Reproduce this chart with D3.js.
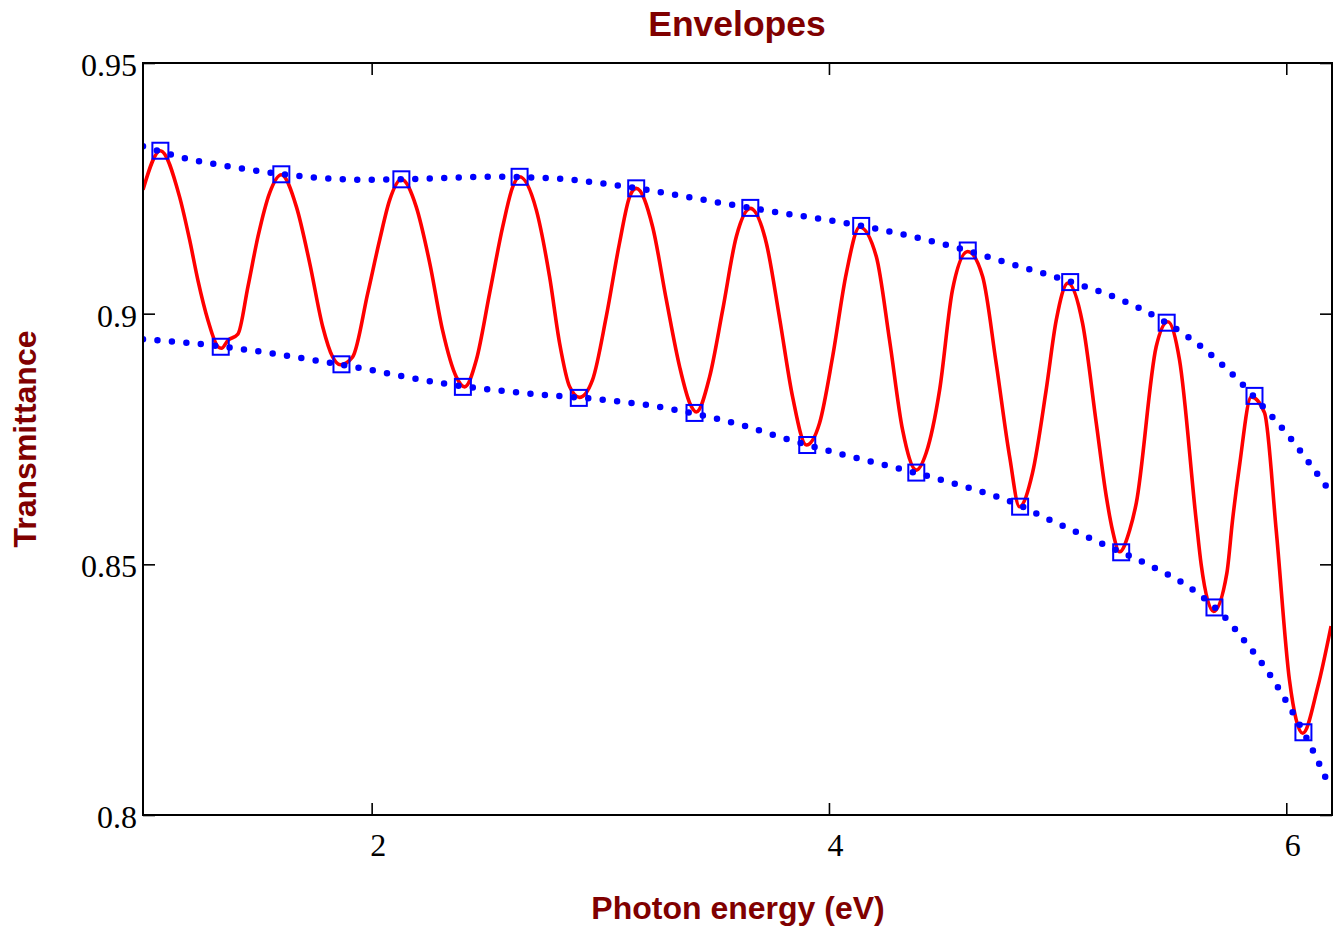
<!DOCTYPE html>
<html><head><meta charset="utf-8">
<script src="https://cdn.jsdelivr.net/npm/d3@7/dist/d3.min.js"></script>
<style>body{margin:0;background:#fff}</style>
</head><body>
<svg id="c" width="1337" height="931"></svg>
<script>
// ---- data ----
const xTicks = [2, 4, 6];
const yTicks = [0.8, 0.85, 0.9, 0.95];
const yTickLabels = ["0.8", "0.85", "0.9", "0.95"];

const spectrumE = [1.000,1.076,1.160,1.204,1.240,1.284,1.328,1.343,1.372,1.415,
1.459,1.503,1.554,1.605,1.671,1.729,1.786,1.829,1.863,1.917,
1.983,2.035,2.079,2.130,2.195,2.254,2.310,2.370,2.407,2.458,
2.516,2.573,2.617,2.647,2.720,2.778,2.822,2.866,2.909,2.966,
3.026,3.084,3.128,3.157,3.229,3.289,3.347,3.391,3.420,3.478,
3.535,3.595,3.656,3.726,3.784,3.841,3.901,3.959,4.016,4.076,
4.134,4.207,4.265,4.322,4.382,4.425,4.484,4.540,4.607,4.672,
4.731,4.790,4.833,4.890,4.950,4.994,5.045,5.109,5.169,5.213,
5.240,5.271,5.315,5.344,5.431,5.482,5.533,5.606,5.628,5.682,
5.740,5.765,5.795,5.847,5.905,5.956,6.014,6.072,6.138,6.196];
const spectrumT = [0.9247,0.9325,0.9233,0.9147,0.9067,0.8987,0.8934,0.8931,0.8947,0.8959,
0.9054,0.9154,0.9241,0.9277,0.9213,0.9101,0.8974,0.8914,0.8898,0.8914,
0.9041,0.9147,0.9227,0.9268,0.9213,0.9101,0.8967,0.8874,0.8854,0.8908,
0.9041,0.9173,0.9253,0.9273,0.9207,0.9074,0.8941,0.8854,0.8833,0.8868,
0.8994,0.9141,0.9233,0.9250,0.9173,0.9027,0.8894,0.8822,0.8804,0.8874,
0.9007,0.9154,0.9210,0.9141,0.8991,0.8834,0.8738,0.8782,0.8914,0.9081,
0.9173,0.9114,0.8947,0.8768,0.8688,0.8722,0.8848,0.9047,0.9124,0.9074,
0.8902,0.8715,0.8615,0.8682,0.8848,0.8987,0.9061,0.8981,0.8782,0.8635,
0.8568,0.8525,0.8568,0.8622,0.8934,0.8984,0.8908,0.8588,0.8499,0.8406,
0.8482,0.8588,0.8695,0.8834,0.8802,0.8568,0.8269,0.8163,0.8256,0.8377];

const upperE = [1.000,1.194,1.387,1.576,1.768,1.961,2.210,2.529,2.786,3.041,3.294,3.551,3.806,
4.059,4.316,4.571,4.820,5.075,5.271,5.460,5.650,5.778,5.900,6.007,6.104,6.196];
const upperT = [0.9334,0.9309,0.9293,0.9280,0.9271,0.9267,0.9269,0.9273,0.9270,0.9258,0.9240,0.9219,0.9200,
0.9182,0.9159,0.9130,0.9096,0.9061,0.9029,0.8986,0.8926,0.8873,0.8814,0.8758,0.8700,0.8642];

const lowerE = [1.000,1.194,1.387,1.576,1.765,1.958,2.149,2.338,2.533,2.725,2.975,3.230,3.485,3.616,
3.806,4.061,4.316,4.571,4.822,4.950,5.205,5.398,5.589,5.720,5.827,5.921,6.000,6.070,6.135,6.192];
const lowerT = [0.8949,0.8942,0.8932,0.8920,0.8906,0.8891,0.8874,0.8859,0.8848,0.8839,0.8830,0.8816,0.8793,0.8778,
0.8751,0.8719,0.8690,0.8658,0.8620,0.8592,0.8539,0.8499,0.8450,0.8400,0.8342,0.8285,0.8227,0.8170,0.8111,0.8054];

const maxE = [1.076,1.605,2.130,2.647,3.157,3.656,4.141,4.607,5.055,5.477,5.861];
const maxT = [0.9325,0.9278,0.9268,0.9273,0.9250,0.9211,0.9175,0.9126,0.9063,0.8982,0.8836];
const minE = [1.340,1.868,2.399,2.906,3.412,3.905,4.382,4.836,5.278,5.686,6.075];
const minT = [0.8934,0.8899,0.8854,0.8832,0.8802,0.8738,0.8683,0.8615,0.8524,0.8414,0.8165];

// ---- layout ----
const svg = d3.select("#c");
const L = 143, T0 = 63, R = 1332, B = 815;
const x = d3.scaleLinear().domain([1, 6.2]).range([L, R]);
const y = d3.scaleLinear().domain([0.8, 0.95]).range([B, T0]);

svg.append("defs").append("clipPath").attr("id", "clip")
  .append("rect").attr("x", L).attr("y", T0).attr("width", R - L).attr("height", B - T0);

const zip = (a, b) => a.map((v, i) => [v, b[i]]);
const line = d3.line().x(d => x(d[0])).y(d => y(d[1])).curve(d3.curveMonotoneX);

const plot = svg.append("g").attr("clip-path", "url(#clip)");
plot.append("path").datum(zip(spectrumE, spectrumT))
  .attr("d", line).attr("fill", "none").attr("stroke", "#ff0000")
  .attr("stroke-width", 3.6).attr("stroke-linejoin", "round");

[[upperE, upperT], [lowerE, lowerT]].forEach(([e, t]) => {
  plot.append("path").datum(zip(e, t))
    .attr("d", line).attr("fill", "none").attr("stroke", "#0000ff")
    .attr("stroke-width", 6.5).attr("stroke-linecap", "round")
    .attr("stroke-dasharray", "0 14.5");
});

const sq = 16;
[[maxE, maxT], [minE, minT]].forEach(([e, t]) => {
  svg.append("g").selectAll("rect").data(zip(e, t)).join("rect")
    .attr("x", d => x(d[0]) - sq / 2).attr("y", d => y(d[1]) - sq / 2)
    .attr("width", sq).attr("height", sq)
    .attr("fill", "none").attr("stroke", "#0000ff").attr("stroke-width", 2);
});

// ---- axes ----
const tickLen = 12;
const axB = svg.append("g").attr("transform", `translate(0,${B})`)
  .call(d3.axisBottom(x).tickValues(xTicks).tickSize(-tickLen).tickPadding(0).tickFormat(d3.format("d")));
const axT = svg.append("g").attr("transform", `translate(0,${T0})`)
  .call(d3.axisTop(x).tickValues(xTicks).tickSize(-tickLen).tickFormat(""));
const axL = svg.append("g").attr("transform", `translate(${L},0)`)
  .call(d3.axisLeft(y).tickValues(yTicks).tickSize(-tickLen).tickFormat((d, i) => yTickLabels[i]));
const axR = svg.append("g").attr("transform", `translate(${R},0)`)
  .call(d3.axisRight(y).tickValues(yTicks).tickSize(-tickLen).tickFormat(""));

[axB, axT, axL, axR].forEach(g => {
  g.select(".domain").remove();
  g.selectAll(".tick line").attr("stroke", "#000").attr("stroke-width", 1.6);
});
axB.selectAll(".tick text").attr("y", 41).attr("dy", null).attr("dx", 6)
  .attr("font-family", "'Liberation Serif', 'Times New Roman', serif").attr("font-size", 32).attr("fill", "#000");
axL.selectAll(".tick text").attr("x", -6).attr("dy", 12.5)
  .attr("font-family", "'Liberation Serif', 'Times New Roman', serif").attr("font-size", 32).attr("fill", "#000");

svg.append("rect").attr("x", L).attr("y", T0).attr("width", R - L).attr("height", B - T0)
  .attr("fill", "none").attr("stroke", "#000").attr("stroke-width", 2);

// ---- titles ----
const sans = "'Liberation Sans', Arial, Helvetica, sans-serif";
svg.append("text").attr("x", 737).attr("y", 36).attr("text-anchor", "middle")
  .attr("font-family", sans).attr("font-weight", "bold").attr("font-size", 35.5)
  .attr("fill", "#800000").text("Envelopes");
svg.append("text").attr("x", 738).attr("y", 919).attr("text-anchor", "middle")
  .attr("font-family", sans).attr("font-weight", "bold").attr("font-size", 32)
  .attr("fill", "#800000").text("Photon energy (eV)");
svg.append("text").attr("transform", "translate(36,439) rotate(-90)").attr("text-anchor", "middle")
  .attr("font-family", sans).attr("font-weight", "bold").attr("font-size", 32)
  .attr("fill", "#800000").text("Transmittance");
</script>
</body></html>
